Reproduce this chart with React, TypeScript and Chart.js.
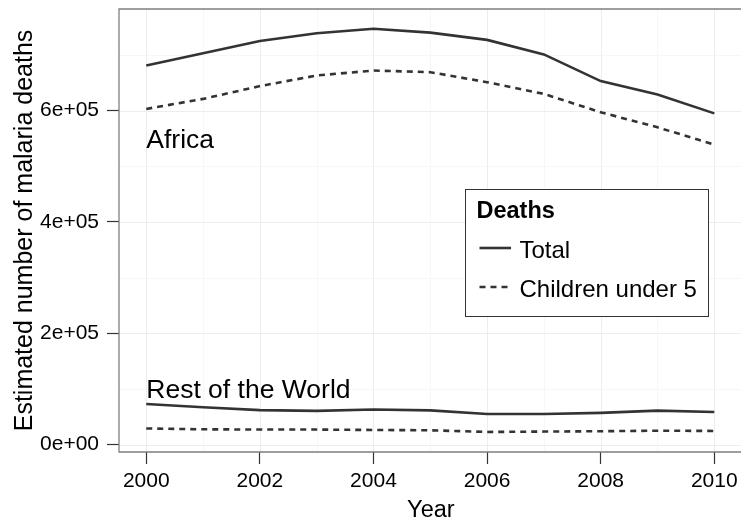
import React, { useEffect, useRef } from "react";
import { Chart, registerables } from "chart.js";

Chart.register(...registerables);

// ---- data ----
const years = [2000, 2001, 2002, 2003, 2004, 2005, 2006, 2007, 2008, 2009, 2010];
const africaTotal = [681000, 703000, 725000, 739000, 747000, 740000, 727000, 701000, 653000, 629000, 595000];
const africaUnder5 = [603000, 621000, 644000, 663000, 672000, 669000, 651000, 630000, 597000, 570000, 539000];
const restTotal = [73000, 67000, 62000, 60500, 63000, 61500, 55000, 55000, 57000, 61000, 58500];
const restUnder5 = [29000, 27500, 27000, 27000, 26300, 25700, 22700, 23400, 24000, 25000, 24500];

const xTickValues = [2000, 2002, 2004, 2006, 2008, 2010];
const xTickLabels = ["2000", "2002", "2004", "2006", "2008", "2010"];
const xMinorValues = [2001, 2003, 2005, 2007, 2009];
const yTickValues = [0, 200000, 400000, 600000];
const yTickLabels = ["0e+00", "2e+05", "4e+05", "6e+05"];
const yMinorValues = [100000, 300000, 500000, 700000];

const seriesNames = ["Total", "Children under 5"];
const legendTitle = "Deaths";
const regionNames = ["Africa", "Rest of the World"];
const regionLabelX = [2000, 2000];
const regionLabelY = [550000, 100000];
const xTitle = "Year";
const yTitle = "Estimated number of malaria deaths";

const FONT = "'Liberation Sans', Arial, Helvetica, sans-serif";
const LINE = "#333333";
const DASH = [6, 5];

const decorPlugin = {
  id: "decor",
  beforeDatasetsDraw(chart: any) {
    const { ctx, chartArea: a, scales } = chart;
    const x = scales.x;
    const y = scales.y;
    ctx.save();
    ctx.beginPath();
    ctx.rect(a.left, a.top, a.right - a.left, a.bottom - a.top);
    ctx.clip();
    ctx.lineWidth = 1;
    const vline = (v: number) => {
      const p = Math.round(x.getPixelForValue(v)) + 0.5;
      ctx.beginPath();
      ctx.moveTo(p, a.top);
      ctx.lineTo(p, a.bottom);
      ctx.stroke();
    };
    const hline = (v: number) => {
      const p = Math.round(y.getPixelForValue(v)) + 0.5;
      ctx.beginPath();
      ctx.moveTo(a.left, p);
      ctx.lineTo(a.right, p);
      ctx.stroke();
    };
    ctx.strokeStyle = "#f7f7f7";
    xMinorValues.forEach(vline);
    yMinorValues.forEach(hline);
    ctx.strokeStyle = "#ededed";
    xTickValues.forEach(vline);
    yTickValues.forEach(hline);
    ctx.restore();
  },
  afterDatasetsDraw(chart: any) {
    const { ctx, chartArea: a, scales } = chart;
    const x = scales.x;
    const y = scales.y;
    ctx.save();
    // panel border (right side lies beyond the canvas)
    ctx.strokeStyle = "#7f7f7f";
    ctx.lineWidth = 1.3;
    ctx.beginPath();
    ctx.moveTo(a.right + 5, a.top);
    ctx.lineTo(a.left, a.top);
    ctx.lineTo(a.left, a.bottom);
    ctx.lineTo(a.right + 5, a.bottom);
    ctx.stroke();

    // region labels
    ctx.fillStyle = "#000";
    ctx.textAlign = "left";
    ctx.textBaseline = "alphabetic";
    const rs = 26.5;
    ctx.font = `${rs}px ${FONT}`;
    regionNames.forEach((name, i) => {
      const px = x.getPixelForValue(regionLabelX[i]);
      const py = y.getPixelForValue(regionLabelY[i]);
      ctx.fillText(name, px, py + rs * 0.716 / 2);
    });

    // legend
    const lx = 465, ly = 189, lw = 244, lh = 128;
    ctx.fillStyle = "#fff";
    ctx.fillRect(lx, ly, lw, lh);
    ctx.strokeStyle = "#333";
    ctx.lineWidth = 1;
    ctx.strokeRect(lx + 0.5, ly + 0.5, lw - 1, lh - 1);
    ctx.fillStyle = "#000";
    const ts = 23.5;
    ctx.font = `bold ${ts}px ${FONT}`;
    ctx.fillText(legendTitle, lx + 11.5, 209.3 + ts * 0.716 / 2);
    const ls = 24;
    ctx.font = `${ls}px ${FONT}`;
    const rowsY = [248, 287];
    seriesNames.forEach((name, i) => {
      const ry = rowsY[i];
      ctx.strokeStyle = LINE;
      ctx.lineWidth = 2.6;
      ctx.lineCap = "butt";
      ctx.setLineDash(i === 1 ? DASH : []);
      ctx.beginPath();
      ctx.moveTo(lx + 14.5, ry);
      ctx.lineTo(lx + 46, ry);
      ctx.stroke();
      ctx.setLineDash([]);
      ctx.fillText(name, lx + 54.5, ry + 1 + ls * 0.716 / 2);
    });

    // axis titles
    const xs = 23.5;
    ctx.font = `${xs}px ${FONT}`;
    ctx.textAlign = "center";
    const panelRight = x.getPixelForValue(2010.5);
    ctx.fillText(xTitle, (a.left + panelRight) / 2, 516.7);
    const ys = 25;
    ctx.font = `${ys}px ${FONT}`;
    ctx.translate(31.8, (a.top + a.bottom) / 2);
    ctx.rotate(-Math.PI / 2);
    ctx.fillText(yTitle, 0, 0);
    ctx.restore();
  },
};

export default function App() {
  const ref = useRef<HTMLCanvasElement | null>(null);
  useEffect(() => {
    if (!ref.current) return;
    const mk = (label: string, data: number[], dashed: boolean) => ({
      label,
      data: years.map((yr, i) => ({ x: yr, y: data[i] })),
      borderColor: LINE,
      backgroundColor: LINE,
      borderWidth: 2.6,
      borderDash: dashed ? DASH : [],
      borderCapStyle: "butt" as const,
      pointRadius: 0,
      tension: 0,
      fill: false,
    });
    const chart = new Chart(ref.current, {
      type: "line",
      data: {
        datasets: [
          mk("Africa " + seriesNames[0], africaTotal, false),
          mk("Africa " + seriesNames[1], africaUnder5, true),
          mk("Rest " + seriesNames[0], restTotal, false),
          mk("Rest " + seriesNames[1], restUnder5, true),
        ],
      },
      options: {
        animation: false,
        responsive: false,
        devicePixelRatio: 1,
        layout: { padding: { top: 9, left: 0, right: 0, bottom: 0 } },
        plugins: { legend: { display: false }, tooltip: { enabled: false } },
        scales: {
          x: {
            type: "linear",
            min: 1999.52,
            max: 2010.47,
            afterBuildTicks: (s: any) => {
              s.ticks = xTickValues.map((v) => ({ value: v }));
            },
            afterFit: (s: any) => {
              s.height = 67;
              s.paddingLeft = 0;
              s.paddingRight = 0;
            },
            ticks: {
              autoSkip: false,
              maxRotation: 0,
              padding: 5,
              color: "#000",
              font: { family: FONT, size: 21 },
              callback: (v: any) => {
                const i = xTickValues.indexOf(Number(v));
                return i >= 0 ? xTickLabels[i] : "";
              },
            },
            grid: { display: true, drawOnChartArea: false, drawTicks: true, tickLength: 12, tickColor: "#333", tickWidth: 1.2 },
            border: { display: false },
          },
          y: {
            type: "linear",
            min: -13300,
            max: 782500,
            afterBuildTicks: (s: any) => {
              s.ticks = yTickValues.map((v) => ({ value: v }));
            },
            afterFit: (s: any) => {
              s.width = 119;
              s.paddingTop = 0;
              s.paddingBottom = 0;
            },
            ticks: {
              autoSkip: false,
              padding: 8,
              color: "#000",
              font: { family: FONT, size: 21 },
              callback: (v: any) => {
                const i = yTickValues.indexOf(Number(v));
                return i >= 0 ? yTickLabels[i] : "";
              },
            },
            grid: { display: true, drawOnChartArea: false, drawTicks: true, tickLength: 12, tickColor: "#333", tickWidth: 1.2 },
            border: { display: false },
          },
        },
      },
      plugins: [decorPlugin],
    } as any);
    return () => chart.destroy();
  }, []);
  return (
    <div style={{ position: "absolute", left: 0, top: 0, width: 741, height: 519, background: "#fff" }}>
      <canvas ref={ref} width={741} height={519} style={{ width: 741, height: 519, display: "block" }} />
    </div>
  );
}
